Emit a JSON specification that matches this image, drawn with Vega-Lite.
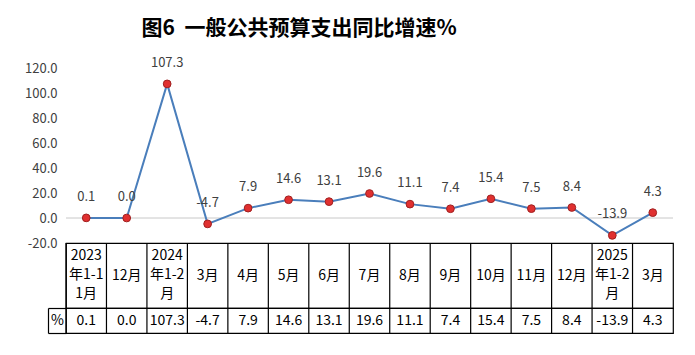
{
  "$schema": "https://vega.github.io/schema/vega-lite/v6.json",
  "background": "white",
  "padding": {"left": 24, "top": 17, "right": 16, "bottom": 16},
  "bounds": "flush",
  "title": {
    "text": "图6\u00a0\u00a0一般公共预算支出同比增速%",
    "font": "Noto Sans CJK SC",
    "fontSize": 21,
    "fontWeight": "bold",
    "color": "black",
    "anchor": "middle",
    "dx": -50,
    "offset": 18
  },
  "data": {
    "values": [
      {"period": "2023年1-11月", "label": "2023\n年1-1\n1月", "value": 0.1},
      {"period": "2023年12月", "label": "12月", "value": 0.0},
      {"period": "2024年1-2月", "label": "2024\n年1-2\n月", "value": 107.3},
      {"period": "2024年3月", "label": "3月", "value": -4.7},
      {"period": "2024年4月", "label": "4月", "value": 7.9},
      {"period": "2024年5月", "label": "5月", "value": 14.6},
      {"period": "2024年6月", "label": "6月", "value": 13.1},
      {"period": "2024年7月", "label": "7月", "value": 19.6},
      {"period": "2024年8月", "label": "8月", "value": 11.1},
      {"period": "2024年9月", "label": "9月", "value": 7.4},
      {"period": "2024年10月", "label": "10月", "value": 15.4},
      {"period": "2024年11月", "label": "11月", "value": 7.5},
      {"period": "2024年12月", "label": "12月", "value": 8.4},
      {"period": "2025年1-2月", "label": "2025\n年1-2\n月", "value": -13.9},
      {"period": "2025年3月", "label": "3月", "value": 4.3}
    ]
  },
  "transform": [
    {"calculate": "replace(format(datum.value, '.1f'), '\u2212', '-')", "as": "valueText"}
  ],
  "spacing": 0,
  "vconcat": [
    {
      "width": 607,
      "height": 175,
      "layer": [
        {
          "data": {"values": [{"zero": 0}]},
          "transform": [],
          "mark": {"type": "rule", "color": "#c8c8c8", "strokeWidth": 1},
          "encoding": {"y": {"field": "zero", "type": "quantitative"}}
        },
        {
          "mark": {"type": "line", "color": "#4a7ebb", "strokeWidth": 2},
          "encoding": {
            "x": {"field": "period", "type": "ordinal", "sort": null, "scale": {"paddingInner": 0, "paddingOuter": 0}, "axis": null},
            "y": {"field": "value", "type": "quantitative"}
          }
        },
        {
          "mark": {"type": "point", "filled": true, "color": "#e03030", "stroke": "#a02020", "strokeWidth": 1, "size": 60, "opacity": 1},
          "encoding": {
            "x": {"field": "period", "type": "ordinal", "sort": null, "axis": null},
            "y": {"field": "value", "type": "quantitative"}
          }
        },
        {
          "mark": {"type": "text", "dy": -21, "fontSize": 13, "color": "#404040", "font": "Noto Sans CJK SC"},
          "encoding": {
            "x": {"field": "period", "type": "ordinal", "sort": null, "axis": null},
            "y": {"field": "value", "type": "quantitative"},
            "text": {"field": "valueText", "type": "nominal"}
          }
        }
      ],
      "encoding": {
        "y": {
          "type": "quantitative",
          "scale": {"domain": [-20, 120], "nice": false, "zero": false},
          "axis": {
            "values": [-20, 0, 20, 40, 60, 80, 100, 120],
            "format": ".1f",
            "labelExpr": "replace(datum.label, '\u2212', '-')",
            "grid": false,
            "domain": false,
            "ticks": false,
            "labelPadding": 9,
            "labelFontSize": 13,
            "labelColor": "#404040",
            "labelFont": "Noto Sans CJK SC",
            "title": null
          }
        }
      }
    },
    {
      "width": 607,
      "height": 65,
      "view": {"stroke": "black", "strokeWidth": 1.2},
      "encoding": {
        "x": {
          "field": "period", "type": "ordinal", "sort": null,
          "scale": {"paddingInner": 0, "paddingOuter": 0},
          "axis": null
        }
      },
      "layer": [
        {
          "mark": {"type": "rule", "color": "black", "strokeWidth": 1.2},
          "encoding": {
            "x": {"field": "period", "type": "ordinal", "sort": null, "bandPosition": 0}
          }
        },
        {
          "transform": [{"calculate": "length(split(datum.label, '\\n'))", "as": "nLines"}],
          "mark": {"type": "text", "fontSize": 14, "lineBreak": "\n", "lineHeight": 19, "color": "black", "font": "Noto Sans CJK SC", "baseline": "middle"},
          "encoding": {
            "y": {"field": "nLines", "type": "quantitative", "scale": {"domain": [-2.421, 4.421], "zero": false, "nice": false}, "axis": null},
            "text": {"field": "label", "type": "nominal"}
          }
        }
      ]
    },
    {
      "width": 607,
      "height": 25,
      "view": {"stroke": "black", "strokeWidth": 1.2},
      "encoding": {
        "x": {
          "field": "period", "type": "ordinal", "sort": null,
          "scale": {"paddingInner": 0, "paddingOuter": 0},
          "axis": null
        }
      },
      "layer": [
        {
          "mark": {"type": "rule", "color": "black", "strokeWidth": 1.2},
          "encoding": {
            "x": {"field": "period", "type": "ordinal", "sort": null, "bandPosition": 0}
          }
        },
        {
          "transform": [{"calculate": "'%'", "as": "row"}],
          "mark": {"type": "text", "fontSize": 14, "color": "black", "font": "Noto Sans CJK SC", "baseline": "middle"},
          "encoding": {
            "y": {
              "field": "row", "type": "nominal",
              "scale": {"paddingInner": 0, "paddingOuter": 0},
              "axis": {"orient": "left", "offset": 18, "tickBand": "extent", "tickSize": -18, "tickColor": "black", "tickWidth": 1.2, "domain": true, "domainColor": "black", "domainWidth": 1.2, "labelPadding": 9, "labelAlign": "center", "labelFontSize": 14, "labelColor": "black", "labelFont": "Noto Sans CJK SC", "title": null}
            },
            "text": {"field": "valueText", "type": "nominal"}
          }
        }
      ]
    }
  ],
  "config": {
    "view": {"stroke": null},
    "font": "Noto Sans CJK SC"
  }
}
